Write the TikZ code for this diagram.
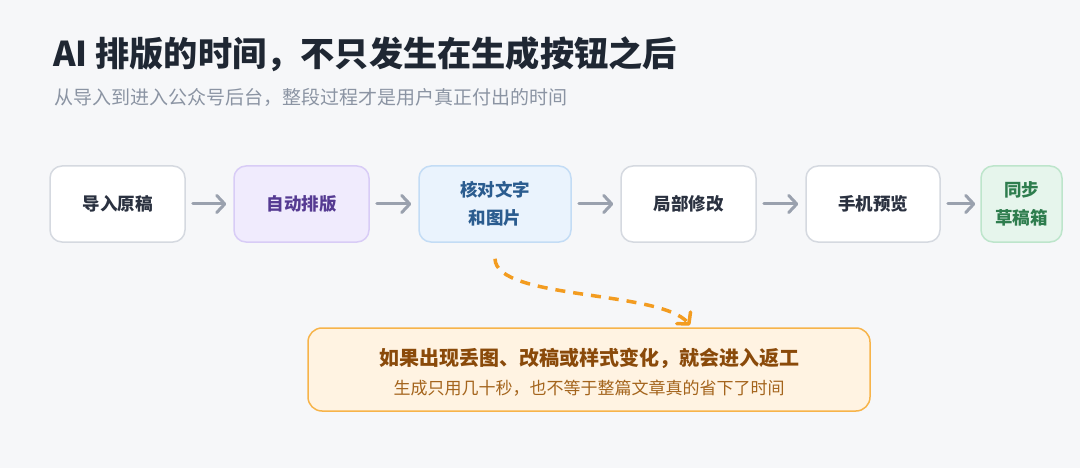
\documentclass[tikz,border=0pt]{standalone}
\usepackage{fontspec}
\setmainfont{Noto Sans CJK SC}
\usetikzlibrary{arrows.meta}
\definecolor{bg}{HTML}{F6F7F9}
\definecolor{ttl}{HTML}{1F2733}
\definecolor{sub}{HTML}{8B94A3}
\definecolor{wbd}{HTML}{D5D9E0}
\definecolor{wtx}{HTML}{2A3140}
\definecolor{pfill}{HTML}{F0EBFD}
\definecolor{pbd}{HTML}{D8CCF6}
\definecolor{ptx}{HTML}{553A92}
\definecolor{bfill}{HTML}{EAF3FD}
\definecolor{bbd}{HTML}{C3DCF5}
\definecolor{btx}{HTML}{2B5C8F}
\definecolor{gfill}{HTML}{E6F5EC}
\definecolor{gbd}{HTML}{BDE5CB}
\definecolor{gtx}{HTML}{2E7D4E}
\definecolor{ofill}{HTML}{FFF3E2}
\definecolor{obd}{HTML}{F7B44A}
\definecolor{otx}{HTML}{8A4A0A}
\definecolor{osub}{HTML}{A4641C}
\definecolor{odash}{HTML}{F39C20}
\definecolor{arrc}{HTML}{9AA1AE}
\tikzset{
  stepbox/.style={draw=wbd, fill=white, line width=1.5pt, rounded corners=12pt,
    minimum height=76pt, inner sep=0pt, align=center,
    font=\fontsize{17.5}{28}\selectfont\bfseries, text=wtx},
  purplebox/.style={stepbox, draw=pbd, fill=pfill, text=ptx},
  bluebox/.style={stepbox, draw=bbd, fill=bfill, text=btx},
  greenbox/.style={stepbox, draw=gbd, fill=gfill, text=gtx},
  flowarrow/.style={draw=arrc, line width=3pt, line cap=round,
    -{Straight Barb[length=8pt,width=17pt,line cap=round,line join=round]},
    shorten <=7pt, shorten >=7pt},
  callout/.style={draw=obd, fill=ofill, line width=1.5pt, rounded corners=14pt,
    minimum width=562pt, minimum height=83pt, inner sep=0pt},
  redo/.style={draw=odash, line width=3.5pt, dash pattern=on 10pt off 8pt,
    -{Straight Barb[length=8pt,width=18pt,line cap=round,line join=round]}}
}
\begin{document}
\begin{tikzpicture}[x=1pt,y=-1pt]
\fill[bg] (0,0) rectangle (1080,468);
\useasboundingbox (0,0) rectangle (1080,468);
\node[anchor=west, inner sep=0pt, text=ttl, font=\fontsize{34.2}{34.2}\selectfont\bfseries] (title) at (53,54) {AI 排版的时间，不只发生在生成按钮之后};
\node[anchor=west, inner sep=0pt, text=sub, font=\fontsize{19}{19}\selectfont] (subtitle) at (54,97) {从导入到进入公众号后台，整段过程才是用户真正付出的时间};

\node[stepbox, minimum width=135pt] (a) at (117.5,204) {导入原稿};
\node[purplebox, minimum width=135pt] (b) at (301.5,204) {自动排版};
\node[bluebox, minimum width=152pt] (c) at (495,204) {核对文字\\和图片};
\node[stepbox, minimum width=135pt] (d) at (688.5,204) {局部修改};
\node[stepbox, minimum width=134pt] (e) at (873,204) {手机预览};
\node[greenbox, minimum width=81pt] (f) at (1021.5,204) {同步\\草稿箱};

\draw[flowarrow] (a) -- (b);
\draw[flowarrow] (b) -- (c);
\draw[flowarrow] (c) -- (d);
\draw[flowarrow] (d) -- (e);
\draw[flowarrow, shorten >=5pt] (e) -- (f);

\node[callout] (w) at (589,369.5) {};
\node[text=otx, font=\fontsize{20}{20}\selectfont\bfseries, inner sep=0pt] (wt) at (589,358) {如果出现丢图、改稿或样式变化，就会进入返工};
\node[text=osub, font=\fontsize{17}{17}\selectfont, inner sep=0pt] (ws) at (589,388) {生成只用几十秒，也不等于整篇文章真的省下了时间};

\draw[redo] ([yshift=-16pt]c.south) .. controls (496,300) and (660,290) .. ([xshift=101pt,yshift=2pt]w.north);
\end{tikzpicture}
\end{document}
